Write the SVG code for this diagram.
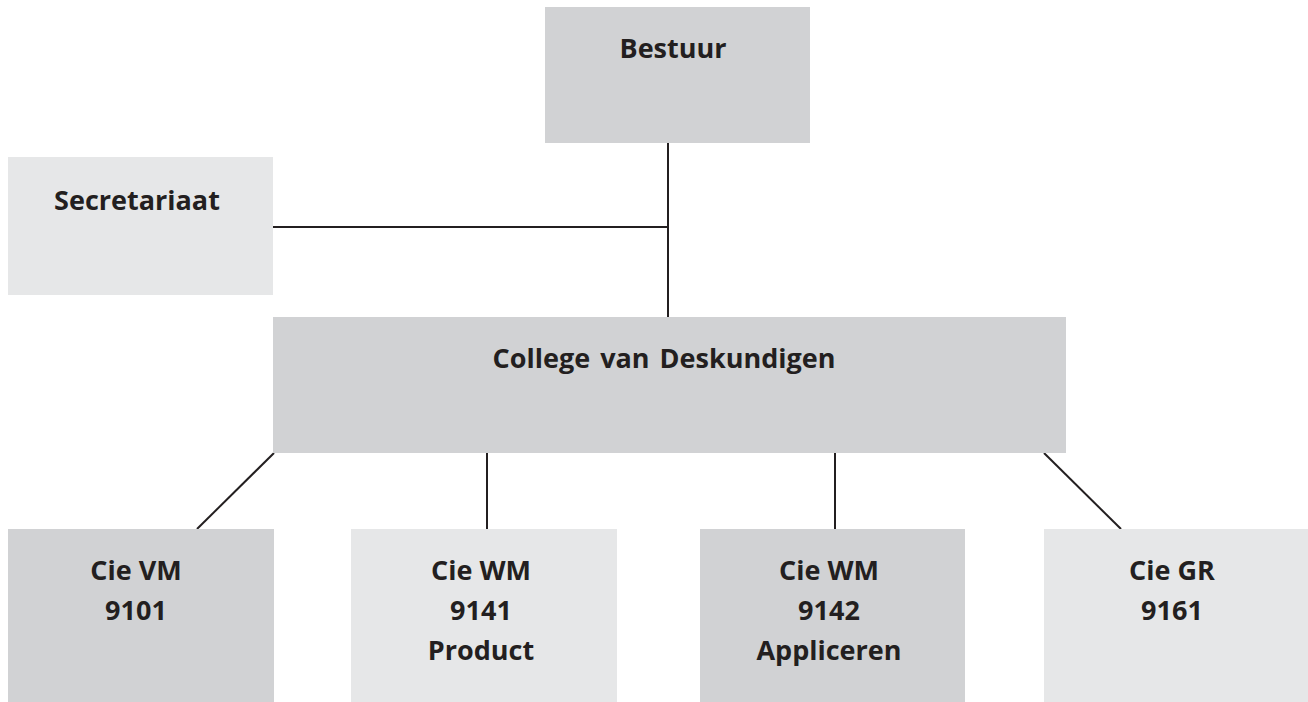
<svg xmlns="http://www.w3.org/2000/svg" width="1308" height="702" viewBox="0 0 1308 702">
<style>
.dark{fill:#d1d2d4}
.light{fill:#e6e7e8}
.lbl{font-family:"Open Sans","Liberation Sans",sans-serif;font-weight:700;font-size:27px;fill:#231f20;text-anchor:middle}
.conn{stroke:#231f20;stroke-width:2;fill:none}
</style>
<rect width="1308" height="702" fill="#ffffff"/>
<g id="connectors">
<line class="conn" x1="668" y1="143" x2="668" y2="317"/>
<line class="conn" x1="273" y1="227" x2="668" y2="227"/>
<line class="conn" x1="274" y1="453" x2="197" y2="529"/>
<line class="conn" x1="487" y1="453" x2="487" y2="529"/>
<line class="conn" x1="835" y1="453" x2="835" y2="529"/>
<line class="conn" x1="1044" y1="453" x2="1121" y2="529"/>
</g>
<g id="bestuur">
<rect class="dark" x="545" y="7" width="265" height="136"/>
<text class="lbl" x="673" y="58">Bestuur</text>
</g>
<g id="secretariaat">
<rect class="light" x="8" y="157" width="265" height="138"/>
<text class="lbl" x="137" y="210">Secretariaat</text>
</g>
<g id="college">
<rect class="dark" x="273" y="317" width="793" height="136"/>
<text class="lbl" x="664" y="368" word-spacing="3">College van Deskundigen</text>
</g>
<g id="cie-vm">
<rect class="dark" x="8" y="529" width="266" height="173"/>
<text class="lbl" x="136" y="580">Cie VM</text>
<text class="lbl" x="136" y="620">9101</text>
</g>
<g id="cie-wm-9141">
<rect class="light" x="351" y="529" width="266" height="173"/>
<text class="lbl" x="481" y="580">Cie WM</text>
<text class="lbl" x="481" y="620">9141</text>
<text class="lbl" x="481" y="660">Product</text>
</g>
<g id="cie-wm-9142">
<rect class="dark" x="700" y="529" width="265" height="173"/>
<text class="lbl" x="829" y="580">Cie WM</text>
<text class="lbl" x="829" y="620">9142</text>
<text class="lbl" x="829" y="660">Appliceren</text>
</g>
<g id="cie-gr">
<rect class="light" x="1044" y="529" width="264" height="173"/>
<text class="lbl" x="1172" y="580">Cie GR</text>
<text class="lbl" x="1172" y="620">9161</text>
</g>
</svg>
